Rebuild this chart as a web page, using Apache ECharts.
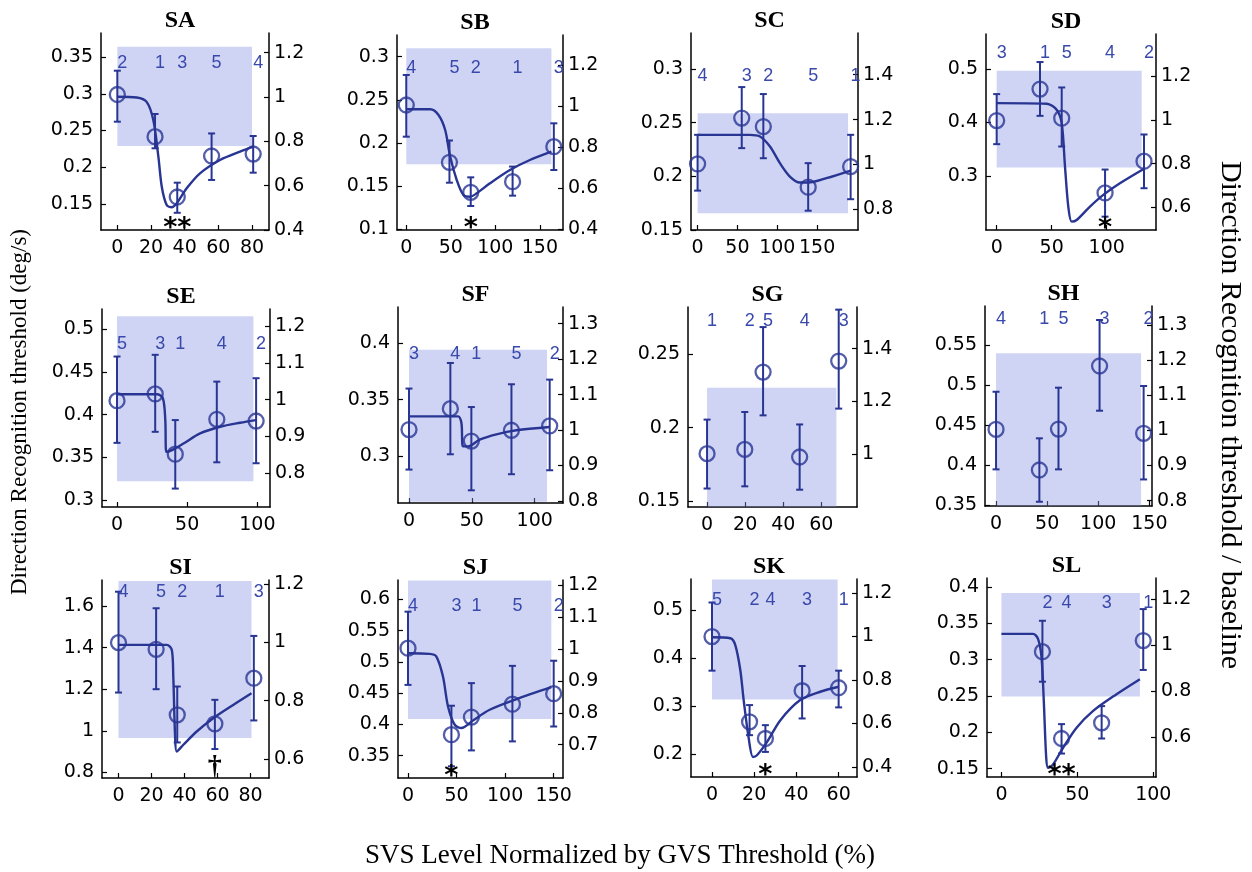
<!DOCTYPE html>
<html><head><meta charset="utf-8">
<script src="https://cdn.jsdelivr.net/npm/echarts@6/dist/echarts.min.js"></script>
<style>html,body{margin:0;padding:0;background:#fff}#c{width:1252px;height:872px}</style>
</head><body><div id="c"></div>
<script>
// ---------------- DATA ----------------
const SA_svs=[0,22.4,35.6,56,80.7], SA_thr=[0.299,0.2416,0.1595,0.2153,0.218], SA_lo=[0.262,0.2258,0.138,0.1827,0.1926], SA_hi=[0.3314,0.2725,0.179,0.246,0.2425], SA_subj=['2','1','3','5','4'];
const SA_band=[0,80,0.2289,0.364];
const SA_fit=[[0,0.296],[11.5,0.295],[17.4,0.289],[21.4,0.264],[24.4,0.214],[26.4,0.1735],[29.3,0.1486],[32.3,0.1455],[35.3,0.151],[41.2,0.1713],[49.1,0.1917],[61,0.2099],[72.9,0.2212],[80.8,0.228]];
const SA_sig=[[35.6,'**']];
const SA_xTicks=[0,20,40,60,80], SA_lTicks=[0.15,0.2,0.25,0.3,0.35], SA_rTicks=[0.4,0.6,0.8,1,1.2];
const SA_xRange=[-9.7,90.1], SA_lRange=[0.1146,0.3827], SA_rRange=[0.4,1.289];

const SB_svs=[0,48.5,72.4,119.4,165.7], SB_thr=[0.244,0.1776,0.1428,0.1552,0.1957], SB_lo=[0.2073,0.154,0.127,0.139,0.1687], SB_hi=[0.2788,0.2029,0.1602,0.1727,0.2228], SB_subj=['4','5','2','1','3'];
const SB_band=[0,163,0.1753,0.3097];
const SB_fit=[[0,0.239],[26.9,0.239],[36.2,0.2325],[43.7,0.2151],[49.3,0.1843],[56.7,0.157],[64.2,0.1397],[71.6,0.1378],[79.1,0.1417],[94,0.1533],[116.4,0.1687],[138.8,0.1803],[163,0.19]];
const SB_sig=[[72.4,'*']];
const SB_xTicks=[0,50,100,150], SB_lTicks=[0.1,0.15,0.2,0.25,0.3], SB_rTicks=[0.4,0.6,0.8,1,1.2];
const SB_xRange=[-10.4,176], SB_lRange=[0.0992,0.3251], SB_rRange=[0.3966,1.346];

const SC_svs=[0,55.4,82.5,138.75,192], SC_thr=[0.2116,0.2543,0.2464,0.1899,0.2091], SC_lo=[0.1867,0.2263,0.2169,0.168,0.1787], SC_hi=[0.2387,0.2832,0.2767,0.2123,0.2387], SC_subj=['4','3','2','5','1'];
const SC_band=[0,188.75,0.1656,0.2589];
const SC_fit=[[0,0.2387],[65.8,0.2387],[78.3,0.2371],[90.8,0.2278],[103.3,0.2123],[115.8,0.1998],[128.3,0.1942],[138.75,0.1942],[161.7,0.1983],[192,0.2054]];
const SC_sig=[];
const SC_xTicks=[0,50,100,150], SC_lTicks=[0.15,0.2,0.25,0.3], SC_rTicks=[0.8,1,1.2,1.4];
const SC_xRange=[-8.25,201.25], SC_lRange=[0.15,0.3336], SC_rRange=[0.7076,1.586];

const SD_svs=[0,39.4,59.1,98.5,133.9], SD_thr=[0.4036,0.4625,0.4081,0.2681,0.3275], SD_lo=[0.3594,0.4124,0.355,0.2237,0.2769], SD_hi=[0.4531,0.5131,0.4655,0.3119,0.3775], SD_subj=['3','1','5','4','2'];
const SD_band=[0,131.8,0.3156,0.4969];
const SD_fit=[[0,0.4362],[45.5,0.435],[54.5,0.4237],[59.1,0.3987],[62.1,0.3175],[65.1,0.2425],[68.2,0.2144],[72.7,0.2175],[84.8,0.2425],[96.9,0.2644],[112,0.2862],[134.8,0.3144]];
const SD_sig=[[98.5,'*']];
const SD_xTicks=[0,50,100], SD_lTicks=[0.3,0.4,0.5], SD_rTicks=[0.6,0.8,1,1.2];
const SD_xRange=[-9.7,144.8], SD_lRange=[0.1987,0.5656], SD_rRange=[0.4958,1.3947];

const SE_svs=[0,27.2,41.5,71.1,99.1], SE_thr=[0.4164,0.4242,0.3539,0.3946,0.3926], SE_lo=[0.3671,0.38,0.3137,0.3444,0.3433], SE_hi=[0.4679,0.4699,0.3937,0.4386,0.4426], SE_subj=['5','3','1','4','2'];
const SE_band=[0,97.2,0.3222,0.5148];
const SE_fit=[[0,0.4238],[28.4,0.4238],[32.7,0.4191],[34.4,0.3937],[35.1,0.3566],[39.1,0.3586],[47.4,0.3664],[59.2,0.3781],[73.5,0.3859],[87.7,0.3906],[99.1,0.3937]];
const SE_sig=[];
const SE_xTicks=[0,50,100], SE_lTicks=[0.3,0.35,0.4,0.45,0.5], SE_rTicks=[0.8,0.9,1,1.1,1.2];
const SE_xRange=[-10.7,109], SE_lRange=[0.2922,0.5234], SE_rRange=[0.7068,1.2477];

const SF_svs=[0,32.9,49.6,81.5,111.9], SF_thr=[0.3236,0.3421,0.3135,0.323,0.3268], SF_lo=[0.2883,0.3018,0.27,0.2842,0.2877], SF_hi=[0.3598,0.3824,0.3435,0.3636,0.3677], SF_subj=['3','4','1','5','2'];
const SF_band=[0,109.8,0.26,0.3941];
const SF_fit=[[0,0.3353],[39,0.3353],[41.7,0.3294],[43,0.3088],[46.9,0.3088],[56.2,0.3147],[69.5,0.3194],[85.4,0.323],[111.9,0.3259]];
const SF_sig=[];
const SF_xTicks=[0,50,100], SF_lTicks=[0.3,0.35,0.4], SF_rTicks=[0.8,0.9,1,1.1,1.2,1.3];
const SF_xRange=[-8.75,122.5], SF_lRange=[0.2588,0.4318], SF_rRange=[0.7944,1.3468];

const SG_svs=[0,19.8,29.4,48.6,69.1], SG_thr=[0.1823,0.1852,0.2379,0.18,0.2454], SG_lo=[0.1585,0.16,0.2084,0.1577,0.213], SG_hi=[0.2055,0.2107,0.2686,0.2022,0.2805], SG_subj=['1','2','5','4','3'];
const SG_band=[0,67.9,0.146,0.2273];
const SG_fit=[];
const SG_sig=[];
const SG_xTicks=[0,20,40,60], SG_lTicks=[0.15,0.2,0.25], SG_rTicks=[1,1.2,1.4];
const SG_xRange=[-10,78.7], SG_lRange=[0.1459,0.2823], SG_rRange=[0.8005,1.5575];

const SH_svs=[0,42.4,61.1,101.3,144.4], SH_thr=[0.4446,0.3938,0.445,0.5238,0.4396], SH_lo=[0.3946,0.3541,0.3946,0.4679,0.382], SH_hi=[0.4916,0.4334,0.4967,0.5813,0.4988], SH_subj=['4','1','5','3','2'];
const SH_band=[0,141.9,0.349,0.5396];
const SH_fit=[];
const SH_sig=[];
const SH_xTicks=[0,50,100,150], SH_lTicks=[0.35,0.4,0.45,0.5,0.55], SH_rTicks=[0.8,0.9,1,1.1,1.2,1.3];
const SH_xRange=[-10.8,152.6], SH_lRange=[0.3488,0.5988], SH_rRange=[0.7849,1.354];

const SI_svs=[0,22.8,35.6,58.4,82], SI_thr=[1.4238,1.3918,1.0769,1.0336,1.253], SI_lo=[1.1838,1.2,0.944,0.9123,1.0498], SI_hi=[1.6686,1.589,1.2128,1.1488,1.456], SI_subj=['4','5','2','1','3'];
const SI_band=[0,80.6,0.965,1.72];
const SI_fit=[[0,1.4128],[29.2,1.4128],[32.3,1.3888],[33.2,1.2607],[34.3,0.9727],[35.3,0.9007],[39.3,0.9328],[47.4,0.9967],[57.4,1.0606],[69.5,1.1245],[80.6,1.1806]];
const SI_sig=[[58.4,'\u2020']];
const SI_xTicks=[0,20,40,60,80], SI_lTicks=[0.8,1,1.2,1.4,1.6], SI_rTicks=[0.6,0.8,1,1.2];
const SI_xRange=[-10,91.2], SI_lRange=[0.7731,1.7248], SI_rRange=[0.535,1.2137];

const SJ_svs=[0,44.7,65.3,107.5,150], SJ_thr=[0.5218,0.3836,0.4117,0.4324,0.4492], SJ_lo=[0.4632,0.3331,0.3585,0.3729,0.3967], SJ_hi=[0.5802,0.4299,0.466,0.4936,0.5018], SJ_subj=['4','3','1','5','2'];
const SJ_band=[0,147.6,0.4086,0.63];
const SJ_fit=[[0,0.5138],[22.3,0.5128],[29.2,0.5085],[36,0.4766],[41.2,0.4287],[48.1,0.3995],[55,0.3942],[66.9,0.4063],[84.1,0.4234],[111.6,0.4404],[147.6,0.4596]];
const SJ_sig=[[44.7,'*']];
const SJ_xTicks=[0,50,100,150], SJ_lTicks=[0.35,0.4,0.45,0.5,0.55,0.6], SJ_rTicks=[0.7,0.8,0.9,1,1.1,1.2];
const SJ_xRange=[-10.3,159.6], SJ_lRange=[0.3144,0.6308], SJ_rRange=[0.5959,1.2156];

const SK_svs=[0,17.8,25.3,42.7,60], SK_thr=[0.4444,0.2673,0.2327,0.3319,0.3381], SK_lo=[0.3736,0.2396,0.2048,0.2743,0.2973], SK_hi=[0.5152,0.3021,0.2604,0.3833,0.3736], SK_subj=['5','2','4','3','1'];
const SK_band=[0,59.5,0.3139,0.563];
const SK_fit=[[0,0.4431],[8.7,0.441],[11,0.4271],[13.4,0.375],[15,0.3125],[17.3,0.236],[19.4,0.1944],[21.3,0.1979],[26.1,0.2256],[32.4,0.2708],[41.8,0.3125],[51.3,0.3298],[60,0.3402]];
const SK_sig=[[25.3,'*']];
const SK_xTicks=[0,20,40,60], SK_lTicks=[0.2,0.3,0.4,0.5], SK_rTicks=[0.4,0.6,0.8,1,1.2];
const SK_xRange=[-9.95,68.7], SK_lRange=[0.1527,0.564], SK_rRange=[0.3539,1.2646];

const SL_svs=[27,39.6,66,93.4], SL_thr=[0.311,0.1914,0.213,0.3262], SL_lo=[0.2696,0.1707,0.1914,0.2858], SL_hi=[0.3535,0.2112,0.236,0.3696], SL_subj=['2','4','3','1'];
const SL_band=[0,91.2,0.2491,0.3917];
const SL_fit=[[0,0.3355],[20.8,0.3355],[24.1,0.3286],[26.4,0.3032],[27.9,0.2432],[29.5,0.1649],[30.7,0.151],[34,0.1557],[40.6,0.1787],[49.5,0.2063],[60.4,0.2294],[75.8,0.2524],[91.2,0.2731]];
const SL_sig=[[39.6,'**']];
const SL_xTicks=[0,50,100], SL_lTicks=[0.15,0.2,0.25,0.3,0.35,0.4], SL_rTicks=[0.6,0.8,1,1.2];
const SL_xRange=[-9.5,101.8], SL_lRange=[0.1384,0.4124], SL_rRange=[0.4253,1.2917];

const titles=['SA','SB','SC','SD','SE','SF','SG','SH','SI','SJ','SK','SL'];
const yLeftTitle='Direction Recognition threshold (deg/s)';
const yRightTitle='Direction Recognition threshold / baseline';
const xTitle='SVS Level Normalized by GVS Threshold (%)';

// ---------------- LAYOUT ----------------
const gridBox=[
 [101,33,269,230],[397,35,563,230],[691,33,858,230],[986,34,1156,230],
 [102,309,270,507],[398,307,563,503],[688,307,857,507],[985,306,1152,506],
 [102,580,269,778],[398,580,563,778],[691,579,857,777],[987,578,1156,777]];
const subjRowOffset=[30,33,43,19,35,47,14,13,12,26,21,25];

const P=[
 {svs:SA_svs,thr:SA_thr,lo:SA_lo,hi:SA_hi,subj:SA_subj,band:SA_band,fit:SA_fit,sig:SA_sig,xT:SA_xTicks,lT:SA_lTicks,rT:SA_rTicks,xR:SA_xRange,lR:SA_lRange,rR:SA_rRange},
 {svs:SB_svs,thr:SB_thr,lo:SB_lo,hi:SB_hi,subj:SB_subj,band:SB_band,fit:SB_fit,sig:SB_sig,xT:SB_xTicks,lT:SB_lTicks,rT:SB_rTicks,xR:SB_xRange,lR:SB_lRange,rR:SB_rRange},
 {svs:SC_svs,thr:SC_thr,lo:SC_lo,hi:SC_hi,subj:SC_subj,band:SC_band,fit:SC_fit,sig:SC_sig,xT:SC_xTicks,lT:SC_lTicks,rT:SC_rTicks,xR:SC_xRange,lR:SC_lRange,rR:SC_rRange},
 {svs:SD_svs,thr:SD_thr,lo:SD_lo,hi:SD_hi,subj:SD_subj,band:SD_band,fit:SD_fit,sig:SD_sig,xT:SD_xTicks,lT:SD_lTicks,rT:SD_rTicks,xR:SD_xRange,lR:SD_lRange,rR:SD_rRange},
 {svs:SE_svs,thr:SE_thr,lo:SE_lo,hi:SE_hi,subj:SE_subj,band:SE_band,fit:SE_fit,sig:SE_sig,xT:SE_xTicks,lT:SE_lTicks,rT:SE_rTicks,xR:SE_xRange,lR:SE_lRange,rR:SE_rRange},
 {svs:SF_svs,thr:SF_thr,lo:SF_lo,hi:SF_hi,subj:SF_subj,band:SF_band,fit:SF_fit,sig:SF_sig,xT:SF_xTicks,lT:SF_lTicks,rT:SF_rTicks,xR:SF_xRange,lR:SF_lRange,rR:SF_rRange},
 {svs:SG_svs,thr:SG_thr,lo:SG_lo,hi:SG_hi,subj:SG_subj,band:SG_band,fit:SG_fit,sig:SG_sig,xT:SG_xTicks,lT:SG_lTicks,rT:SG_rTicks,xR:SG_xRange,lR:SG_lRange,rR:SG_rRange},
 {svs:SH_svs,thr:SH_thr,lo:SH_lo,hi:SH_hi,subj:SH_subj,band:SH_band,fit:SH_fit,sig:SH_sig,xT:SH_xTicks,lT:SH_lTicks,rT:SH_rTicks,xR:SH_xRange,lR:SH_lRange,rR:SH_rRange},
 {svs:SI_svs,thr:SI_thr,lo:SI_lo,hi:SI_hi,subj:SI_subj,band:SI_band,fit:SI_fit,sig:SI_sig,xT:SI_xTicks,lT:SI_lTicks,rT:SI_rTicks,xR:SI_xRange,lR:SI_lRange,rR:SI_rRange},
 {svs:SJ_svs,thr:SJ_thr,lo:SJ_lo,hi:SJ_hi,subj:SJ_subj,band:SJ_band,fit:SJ_fit,sig:SJ_sig,xT:SJ_xTicks,lT:SJ_lTicks,rT:SJ_rTicks,xR:SJ_xRange,lR:SJ_lRange,rR:SJ_rRange},
 {svs:SK_svs,thr:SK_thr,lo:SK_lo,hi:SK_hi,subj:SK_subj,band:SK_band,fit:SK_fit,sig:SK_sig,xT:SK_xTicks,lT:SK_lTicks,rT:SK_rTicks,xR:SK_xRange,lR:SK_lRange,rR:SK_rRange},
 {svs:SL_svs,thr:SL_thr,lo:SL_lo,hi:SL_hi,subj:SL_subj,band:SL_band,fit:SL_fit,sig:SL_sig,xT:SL_xTicks,lT:SL_lTicks,rT:SL_rTicks,xR:SL_xRange,lR:SL_lRange,rR:SL_rRange}
];

// ---------------- STYLE ----------------
const C='#283593', SUBJ_C='#3949ab', BAND_C='rgba(140,152,228,0.42)';
const SANS='Liberation Sans', TICKF='DejaVu Sans', SERIF='Liberation Serif';

const grid=[], xAxis=[], yAxis=[], series=[], graphic=[];
function axisCommon(ticks){
  return {
    axisLine:{show:true,onZero:false,lineStyle:{color:'#000',width:1.5}},
    axisTick:{show:true,inside:true,length:5,customValues:ticks,lineStyle:{color:'#000',width:1.2}},
    splitLine:{show:false}
  };
}
P.forEach((p,i)=>{
  const [l,t,r,b]=gridBox[i];
  grid.push({left:l,top:t,width:r-l,height:b-t});
  xAxis.push(Object.assign({type:'value',gridIndex:i,min:p.xR[0],max:p.xR[1],
    axisLabel:{customValues:p.xT,color:'#000',fontSize:19,fontFamily:TICKF,margin:9}},axisCommon(p.xT)));
  yAxis.push(Object.assign({type:'value',gridIndex:i,position:'left',min:p.lR[0],max:p.lR[1],
    axisLabel:{customValues:p.lT,color:'#000',fontSize:19,fontFamily:TICKF,margin:8}},axisCommon(p.lT)));
  yAxis.push(Object.assign({type:'value',gridIndex:i,position:'right',min:p.rR[0],max:p.rR[1],
    axisLabel:{customValues:p.rT,color:'#000',fontSize:19,fontFamily:TICKF,margin:5}},axisCommon(p.rT)));
  const ax={xAxisIndex:i,yAxisIndex:2*i};
  // shaded baseline band
  series.push(Object.assign({type:'custom',z:1,silent:true,
    data:[p.band],dimensions:['x0','x1','y0','y1'],encode:{x:[0,1],y:[2,3]},
    renderItem:(params,api)=>{
      const a=api.coord([api.value(0),api.value(3)]), c=api.coord([api.value(1),api.value(2)]);
      const cs=params.coordSys;
      const rect=echarts.graphic.clipRectByRect({x:a[0],y:a[1],width:c[0]-a[0],height:c[1]-a[1]},{x:cs.x,y:cs.y,width:cs.width,height:cs.height});
      return rect?{type:'rect',shape:rect,style:{fill:BAND_C}}:null;
    }},ax));
  // fitted curve
  if(p.fit.length){
    series.push(Object.assign({type:'line',z:3,silent:true,data:p.fit,showSymbol:false,smooth:0.3,
      lineStyle:{color:C,width:2.4}},ax));
  }
  // error bars
  series.push(Object.assign({type:'custom',z:4,silent:true,
    data:p.svs.map((x,k)=>[x,p.lo[k],p.hi[k]]),encode:{x:0,y:[1,2]},
    renderItem:(params,api)=>{
      const x=api.value(0), a=api.coord([x,api.value(1)]), c=api.coord([x,api.value(2)]);
      const st={stroke:C,lineWidth:2};
      return {type:'group',children:[
        {type:'line',shape:{x1:a[0],y1:a[1],x2:c[0],y2:c[1]},style:st},
        {type:'line',shape:{x1:a[0]-3.5,y1:a[1],x2:a[0]+3.5,y2:a[1]},style:st},
        {type:'line',shape:{x1:c[0]-3.5,y1:c[1],x2:c[0]+3.5,y2:c[1]},style:st}]};
    }},ax));
  // data points
  series.push(Object.assign({type:'scatter',z:5,silent:true,symbol:'circle',symbolSize:15,
    data:p.svs.map((x,k)=>[x,p.thr[k]]),
    itemStyle:{color:'rgba(0,0,0,0)',borderColor:C,borderWidth:2.3}},ax));
  // subject numbers
  const off=subjRowOffset[i];
  series.push(Object.assign({type:'custom',z:6,silent:true,
    data:p.svs.map(x=>[x]),encode:{x:0},
    renderItem:(params,api)=>{
      const pt=api.coord([api.value(0),p.lR[0]]);
      return {type:'text',x:pt[0]+5,y:params.coordSys.y+off,
        style:{text:p.subj[params.dataIndex],fill:SUBJ_C,fontSize:18,fontFamily:SANS,align:'center',verticalAlign:'middle'}};
    }},ax));
  // significance marks
  if(p.sig.length){
    series.push(Object.assign({type:'custom',z:6,silent:true,
      data:p.sig.map(s=>[s[0]]),encode:{x:0},
      renderItem:(params,api)=>{
        const pt=api.coord([api.value(0),p.lR[0]]);
        const txt=p.sig[params.dataIndex][1];
        const dag=txt==='\u2020';
        return {type:'text',x:pt[0],y:params.coordSys.y+params.coordSys.height+(dag?-11:-1),
          style:{text:txt,fill:'#000',fontSize:dag?28:27,fontFamily:dag?SERIF:'DejaVu Sans',fontWeight:'bold',align:'center',verticalAlign:'middle'}};
      }},ax));
  }
  graphic.push({type:'text',x:(l+r)/2-5,y:t-12,style:{text:titles[i],fill:'#000',font:'bold 24px "Liberation Serif"',align:'center',verticalAlign:'middle'}});
});
graphic.push({type:'text',x:20,y:412,rotation:Math.PI/2,style:{text:yLeftTitle,fill:'#000',font:'23px "Liberation Serif"',align:'center',verticalAlign:'middle'}});
graphic.push({type:'text',x:1230,y:415,rotation:-Math.PI/2,style:{text:yRightTitle,fill:'#000',font:'30px "Liberation Serif"',align:'center',verticalAlign:'middle'}});
graphic.push({type:'text',x:620,y:856,style:{text:xTitle,fill:'#000',font:'27px "Liberation Serif"',align:'center',verticalAlign:'middle'}});

const chart=echarts.init(document.getElementById('c'),null,{renderer:'canvas'});
chart.setOption({animation:false,backgroundColor:'#fff',grid,xAxis,yAxis,series,graphic});
</script></body></html>
